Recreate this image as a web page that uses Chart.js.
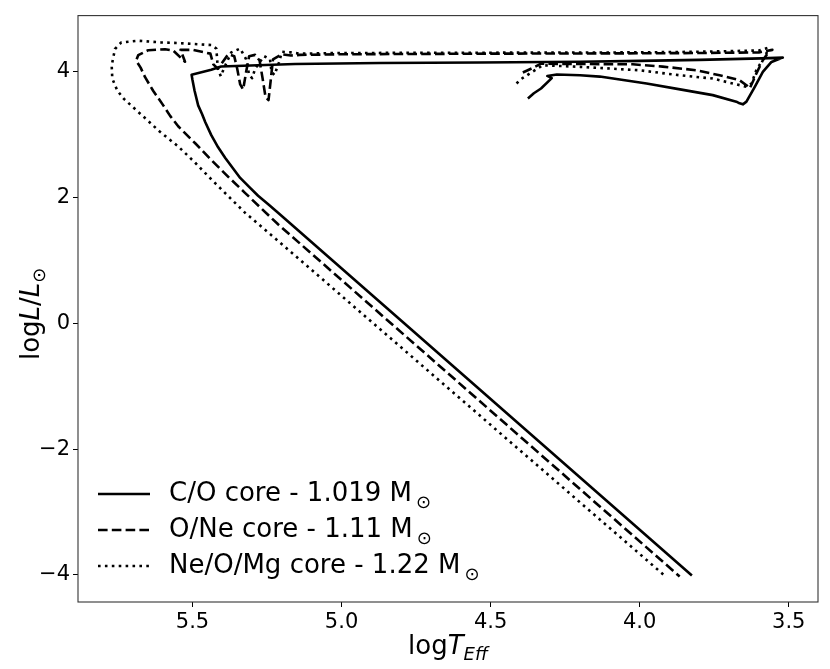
<!DOCTYPE html>
<html>
<head>
<meta charset="utf-8">
<script src="https://cdn.jsdelivr.net/npm/chart.js@4.4.1/dist/chart.umd.min.js"></script>
<style>
  html, body { margin: 0; padding: 0; background: #fff; }
  #wrap { width: 830px; height: 669px; }
</style>
</head>
<body>
<div id="wrap"><canvas id="hr" width="830" height="669"></canvas></div>
<script>
// tick labels
const xTicks = [5.5, 5.0, 4.5, 4.0, 3.5];
const yTicks = [4, 2, 0, -2, -4];

// series labels
const labels = ["C/O core - 1.019 M", "O/Ne core - 1.11 M", "Ne/O/Mg core - 1.22 M"];

// C/O core track (log Teff, log L)
const coTeff = [4.375, 4.355, 4.331, 4.295, 4.31, 4.278, 4.20, 4.134, 3.977, 3.86, 3.755, 3.676, 3.665, 3.654, 3.642, 3.614, 3.587, 3.558, 3.52,
  3.592, 3.80, 4.00, 4.20, 4.536, 4.871, 5.156, 5.404, 5.437, 5.503, 5.500, 5.493, 5.481, 5.468, 5.457, 5.437, 5.414, 5.39, 5.365, 5.34,
  5.31, 5.28, 5.245, 5.213, 4.79, 3.825];
const coLum = [3.578, 3.66, 3.736, 3.90, 3.935, 3.957, 3.946, 3.925, 3.815, 3.717, 3.63, 3.526, 3.499, 3.483, 3.526, 3.763, 4.0, 4.158, 4.226,
  4.215, 4.19, 4.175, 4.16, 4.15, 4.14, 4.125, 4.085, 4.035, 3.955, 3.87, 3.70, 3.467, 3.33, 3.198, 2.993, 2.80, 2.629, 2.47, 2.313,
  2.17, 2.029, 1.89, 1.76, 0.0, -4.011];

// O/Ne core track
const oneTeff = [4.392, 4.36, 4.331, 4.2, 4.023, 3.923, 3.809, 3.732, 3.665, 3.642, 3.631, 3.62, 3.609, 3.587, 3.564, 3.555,
  3.60, 3.80, 4.00, 4.50, 5.00, 5.14, 5.17, 5.20, 5.23, 5.238, 5.245, 5.255, 5.265, 5.275, 5.29, 5.31, 5.32, 5.33, 5.34, 5.35,
  5.36, 5.38, 5.40, 5.415, 5.43, 5.44, 5.50, 5.54, 5.525, 5.565, 5.592, 5.648, 5.682, 5.689, 5.674, 5.659, 5.632, 5.598, 5.575,
  5.548, 5.49, 5.437, 5.38, 5.324, 5.213, 3.866];
const oneLum = [3.99, 4.06, 4.13, 4.125, 4.12, 4.084, 4.025, 3.946, 3.867, 3.788, 3.736, 3.85, 3.973, 4.184, 4.342, 4.35,
  4.31, 4.30, 4.295, 4.29, 4.28, 4.27, 4.26, 4.28, 4.2, 3.85, 3.55, 3.6, 3.9, 4.18, 4.27, 4.25, 4.0, 3.72, 3.8, 4.05,
  4.25, 4.28, 4.15, 4.05, 4.12, 4.29, 4.35, 4.35, 4.16, 4.34, 4.36, 4.345, 4.265, 4.179, 4.068, 3.915, 3.70, 3.467, 3.30,
  3.135, 2.86, 2.598, 2.33, 2.076, 1.575, -4.027];

// Ne/O/Mg core track
const neTeff = [4.413, 4.40, 4.36, 4.325, 4.2, 4.0, 3.866, 3.755, 3.688, 3.642, 3.625, 3.609, 3.575, 3.571,
  3.60, 3.80, 4.0, 4.5, 5.0, 5.14, 5.17, 5.20, 5.21, 5.225, 5.235, 5.24, 5.26, 5.29, 5.30, 5.31, 5.32, 5.34, 5.37,
  5.395, 5.405, 5.415, 5.42, 5.437, 5.548, 5.605, 5.682, 5.739, 5.760, 5.771, 5.769, 5.752, 5.73, 5.70, 5.665, 5.61, 5.548,
  5.49, 5.436, 5.324, 5.213, 3.913];
const neLum = [3.815, 3.88, 4.0, 4.105, 4.08, 4.025, 3.946, 3.894, 3.815, 3.763, 3.815, 4.025, 4.29, 4.38,
  4.34, 4.32, 4.31, 4.305, 4.30, 4.29, 4.31, 4.32, 4.15, 3.95, 4.0, 4.2, 4.25, 4.05, 3.90, 3.95, 4.2, 4.37, 4.31,
  4.05, 3.93, 4.05, 4.37, 4.427, 4.459, 4.468, 4.495, 4.468, 4.364, 4.10, 3.894, 3.70, 3.57, 3.44, 3.29, 3.05, 2.814,
  2.55, 2.286, 1.76, 1.312, -4.027];

const pts = (xs, ys) => xs.map((x, i) => ({ x: x, y: ys[i] }));
const FONT = "'DejaVu Sans', sans-serif";

function track(label, xs, ys, dash) {
  return {
    label: label,
    data: pts(xs, ys),
    showLine: true,
    borderColor: "#000",
    borderWidth: 2.6,
    borderDash: dash,
    borderCapStyle: "butt",
    borderJoinStyle: "round",
    pointRadius: 0,
    tension: 0,
    fill: false
  };
}

// frame, legend, axis titles
const decor = {
  id: "decor",
  afterDraw(chart) {
    const ctx = chart.ctx;
    const a = chart.chartArea;
    ctx.save();
    ctx.strokeStyle = "#333";
    ctx.lineWidth = 1.1;
    ctx.setLineDash([]);
    ctx.strokeRect(a.left, a.top, a.right - a.left, a.bottom - a.top);

    // legend
    const rows = [494, 530, 566];
    ctx.fillStyle = "#000";
    ctx.textBaseline = "middle";
    ctx.textAlign = "left";
    chart.data.datasets.forEach((ds, i) => {
      const y = rows[i];
      ctx.beginPath();
      ctx.setLineDash(ds.borderDash);
      ctx.lineWidth = ds.borderWidth;
      ctx.strokeStyle = "#000";
      ctx.moveTo(98, y);
      ctx.lineTo(150, y);
      ctx.stroke();
      ctx.setLineDash([]);
      ctx.font = "26px " + FONT;
      ctx.fillText(ds.label, 169, y);
      const w = ctx.measureText(ds.label).width;
      ctx.font = "18px " + FONT;
      ctx.fillText("\u2299", 169 + w + 4, y + 9);
    });

    // x title: log T_Eff
    ctx.textBaseline = "alphabetic";
    const parts = [
      ["log", "26px " + FONT, 0],
      ["T", "italic 26px " + FONT, 0],
      ["Eff", "italic 18px " + FONT, 6]
    ];
    let total = 0;
    parts.forEach(p => { ctx.font = p[1]; total += ctx.measureText(p[0]).width; });
    let x = (a.left + a.right) / 2 - total / 2;
    parts.forEach(p => {
      ctx.font = p[1];
      ctx.fillText(p[0], x, 654 + p[2]);
      x += ctx.measureText(p[0]).width;
    });

    // y title: log L / L_sun
    const yparts = [
      ["log", "26px " + FONT, 0],
      ["L", "italic 26px " + FONT, 0],
      ["/", "26px " + FONT, 0],
      ["L", "italic 26px " + FONT, 0],
      ["\u2299", "18px " + FONT, 6]
    ];
    total = 0;
    yparts.forEach(p => { ctx.font = p[1]; total += ctx.measureText(p[0]).width; });
    ctx.translate(39, (a.top + a.bottom) / 2 + 5);
    ctx.rotate(-Math.PI / 2);
    x = -total / 2;
    yparts.forEach(p => {
      ctx.font = p[1];
      ctx.fillText(p[0], x, p[2]);
      x += ctx.measureText(p[0]).width;
    });
    ctx.restore();
  }
};

new Chart(document.getElementById("hr"), {
  type: "scatter",
  data: {
    datasets: [
      track(labels[0], coTeff, coLum, []),
      track(labels[1], oneTeff, oneLum, [9.6, 4.2]),
      track(labels[2], neTeff, neLum, [2.6, 4.3])
    ]
  },
  options: {
    responsive: false,
    devicePixelRatio: 1,
    animation: false,
    layout: { padding: { top: 12, right: 12, left: 0, bottom: 0 } },
    plugins: {
      legend: { display: false },
      tooltip: { enabled: false }
    },
    scales: {
      x: {
        type: "linear",
        reverse: true,
        min: 3.402,
        max: 5.884,
        afterFit: s => { s.height = 67; },
        afterBuildTicks: s => { s.ticks = xTicks.map(v => ({ value: v })); },
        grid: { drawOnChartArea: false, drawTicks: true, tickLength: 5, color: "#000", lineWidth: 1 },
        border: { display: false },
        ticks: {
          color: "#000",
          padding: 3,
          maxRotation: 0,
          font: { family: FONT, size: 21 },
          callback: v => v.toFixed(1)
        }
      },
      y: {
        type: "linear",
        min: -4.433,
        max: 4.895,
        afterFit: s => { s.width = 78; },
        afterBuildTicks: s => { s.ticks = yTicks.map(v => ({ value: v })); },
        grid: { drawOnChartArea: false, drawTicks: true, tickLength: 5, color: "#000", lineWidth: 1 },
        border: { display: false },
        ticks: {
          color: "#000",
          padding: 3,
          font: { family: FONT, size: 21 },
          callback: v => (v < 0 ? "\u2212" + Math.abs(v) : String(v))
        }
      }
    }
  },
  plugins: [decor]
});
</script>
</body>
</html>
